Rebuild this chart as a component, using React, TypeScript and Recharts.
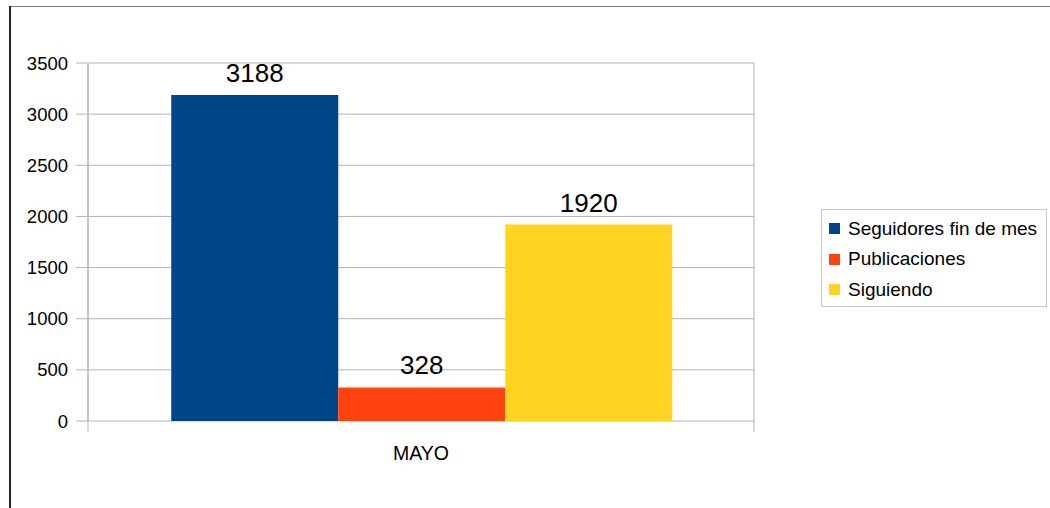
import { Bar, BarChart, CartesianGrid, LabelList, XAxis, YAxis } from "recharts"

const categories = ["MAYO"]
const seguidores = [3188]
const publicaciones = [328]
const siguiendo = [1920]
const yTicks = [0, 500, 1000, 1500, 2000, 2500, 3000, 3500]

const seriesNames = ["Seguidores fin de mes", "Publicaciones", "Siguiendo"]
const seriesKeys = ["seguidores", "publicaciones", "siguiendo"]
const seriesColors = ["#004586", "#ff420e", "#ffd320"]

const data = categories.map((c, i) => ({
  name: c,
  seguidores: seguidores[i],
  publicaciones: publicaciones[i],
  siguiendo: siguiendo[i],
}))

const font = "'Liberation Sans', Arial, sans-serif"
const gridColor = "#b3b3b3"

function CategoryTick(props: any) {
  const { x, y, payload } = props
  const axisWidth = typeof props.width === "number" && props.width > 0 ? props.width : 666
  const bw = axisWidth / categories.length
  return (
    <g>
      <line x1={x - bw / 2} x2={x - bw / 2} y1={y} y2={y + 11} stroke={gridColor} />
      <line x1={x + bw / 2} x2={x + bw / 2} y1={y} y2={y + 11} stroke={gridColor} />
      <text x={x} y={y + 39} textAnchor="middle" fontSize={19.5} fontFamily={font} fill="#000">
        {payload.value}
      </text>
    </g>
  )
}

export default function App() {
  return (
    <div style={{ position: "absolute", left: 0, top: 0, width: 1050, height: 508, background: "#fff", overflow: "hidden" }}>
      <div style={{ position: "absolute", left: 9, top: 6, right: 0, height: 0, borderTop: "1.5px solid #777" }} />
      <div style={{ position: "absolute", left: 9, top: 6, bottom: 0, width: 0, borderLeft: "2px solid #222" }} />
      <div style={{ position: "absolute", left: 0, top: 0 }}>
        <BarChart
          width={1050}
          height={508}
          data={data}
          margin={{ top: 63, right: 296, bottom: 57, left: 0 }}
          barCategoryGap="12.5%"
          barGap={0}
        >
          <CartesianGrid
            stroke={gridColor}
            horizontal={true}
            vertical={true}
            verticalCoordinatesGenerator={({ offset }: any) => [offset.left, offset.left + offset.width]}
          />
          <XAxis
            dataKey="name"
            height={30}
            tickLine={false}
            axisLine={false}
            tickSize={0}
            tickMargin={0}
            tick={<CategoryTick />}
          />
          <YAxis
            width={88}
            domain={[0, 3500]}
            ticks={yTicks}
            interval={0}
            tickSize={12}
            tickMargin={8}
            axisLine={{ stroke: gridColor }}
            tickLine={{ stroke: gridColor }}
            tick={{ fontSize: 18.5, fill: "#000", fontFamily: font }}
          />
          {seriesKeys.map((k, i) => (
            <Bar key={k} dataKey={k} name={seriesNames[i]} fill={seriesColors[i]} isAnimationActive={false}>
              <LabelList dataKey={k} position="top" offset={13} fontSize={26} fill="#000" fontFamily={font} />
            </Bar>
          ))}
        </BarChart>
      </div>
      <div
        style={{
          position: "absolute",
          left: 821,
          top: 209,
          width: 224,
          height: 96,
          border: "1px solid #c8c8c8",
          fontFamily: font,
          fontSize: 19,
          color: "#000",
        }}
      >
        {seriesNames.map((n, i) => (
          <div key={n} style={{ position: "absolute", left: 7, top: 6.5 + i * 30.5, height: 24, display: "flex", alignItems: "center", whiteSpace: "nowrap" }}>
            <span style={{ display: "inline-block", width: 11, height: 11, background: seriesColors[i], marginRight: 8 }} />
            <span>{n}</span>
          </div>
        ))}
      </div>
    </div>
  )
}
